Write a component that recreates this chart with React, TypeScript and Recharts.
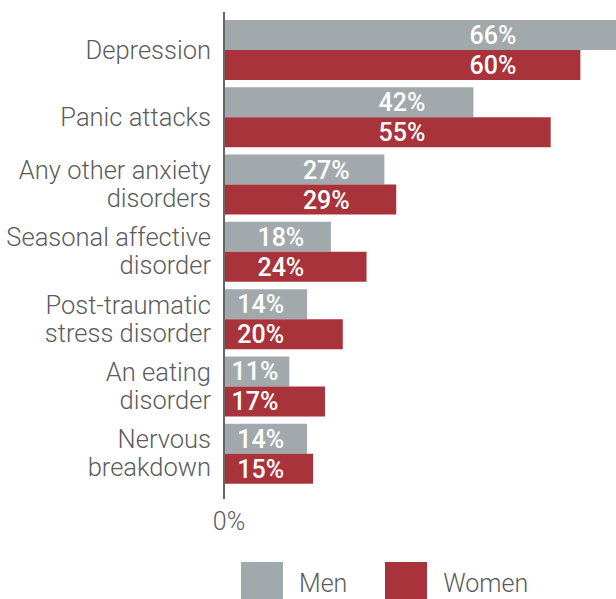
import React from 'react';
import { BarChart, Bar, XAxis, YAxis, Legend, LabelList } from 'recharts';

const categories = [
  ['Depression'],
  ['Panic attacks'],
  ['Any other anxiety', 'disorders'],
  ['Seasonal affective', 'disorder'],
  ['Post-traumatic', 'stress disorder'],
  ['An eating', 'disorder'],
  ['Nervous', 'breakdown'],
];
const men = [66, 42, 27, 18, 14, 11, 14];
const women = [60, 55, 29, 24, 20, 17, 15];
const xTicks = [0];

const GREY = '#a2a9ac';
const RED = '#a9333a';
const TEXT = '#5c5c5c';
const FONT = 'Roboto, "Open Sans", sans-serif';

const data = categories.map((lines, i) => ({
  name: lines.join(' '),
  lines,
  men: men[i],
  women: women[i],
}));

const CategoryTick = (props: any) => {
  const { x, y, payload } = props;
  const lines: string[] = data[payload.index]?.lines ?? [payload.value];
  const lh = 28;
  const tx = x + 6;
  const start = y - ((lines.length - 1) * lh) / 2;
  return (
    <text x={tx} y={start} textAnchor="end" fill={TEXT} fontFamily={FONT} fontWeight={300} fontSize={25.5}>
      {lines.map((l, k) => (
        <tspan key={k} x={tx} y={start + k * lh} dy="0.35em">
          {l}
        </tspan>
      ))}
    </text>
  );
};

// axis line drawn together with the single "0%" tick
const ZeroTick = (props: any) => {
  const { x, y, payload } = props;
  return (
    <g>
      <line x1={x} x2={x} y1={12} y2={499} stroke="#666" strokeWidth={2} />
      <text x={x + 5} y={y + 26} textAnchor="middle" fill={TEXT} fontFamily={FONT} fontWeight={300} fontSize={25} dy="0.35em">
        {payload.value}%
      </text>
    </g>
  );
};

const ValueLabel = (props: any) => {
  const { x, y, width, height, value, index } = props;
  const per = width / value;
  const minW = Math.min(men[index], women[index]) * per;
  const cx = x + Math.max(31, minW * 0.85 - 34);
  return (
    <text x={cx} y={y + height / 2} dy="0.36em" textAnchor="middle" fill="#fff" fontFamily={FONT} fontWeight={500} fontSize={25}>
      {value}%
    </text>
  );
};

const LegendContent = () => (
  <div style={{ display: 'flex', alignItems: 'center', fontFamily: FONT, fontWeight: 300, fontSize: 25, color: TEXT, height: 42, transform: 'translateY(5px)' }}>
    <span style={{ display: 'inline-block', width: 42, height: 42, background: GREY, marginLeft: 241 }} />
    <span style={{ marginLeft: 16 }}>Men</span>
    <span style={{ display: 'inline-block', width: 42, height: 42, background: RED, marginLeft: 38 }} />
    <span style={{ marginLeft: 16 }}>Women</span>
  </div>
);

export default function App() {
  return (
    <div style={{ position: 'absolute', left: 0, top: 0, width: 616, height: 599, background: '#fff', overflow: 'hidden' }}>
      <BarChart
        width={616}
        height={599}
        data={data}
        layout="vertical"
        margin={{ top: 16, right: 0, bottom: 0, left: 0 }}
        barGap={0}
        barSize={30}
      >
        <XAxis type="number" domain={[0, 66]} ticks={xTicks} axisLine={false} tickLine={false} height={70} tick={<ZeroTick />} />
        <YAxis type="category" dataKey="name" width={224} axisLine={false} tickLine={false} tickMargin={13} tick={<CategoryTick />} interval={0} />
        <Legend verticalAlign="bottom" content={<LegendContent />} wrapperStyle={{ left: 0, width: 616 }} />
        <Bar dataKey="men" name="Men" fill={GREY} isAnimationActive={false}>
          <LabelList dataKey="men" content={<ValueLabel />} />
        </Bar>
        <Bar dataKey="women" name="Women" fill={RED} isAnimationActive={false}>
          <LabelList dataKey="women" content={<ValueLabel />} />
        </Bar>
      </BarChart>
    </div>
  );
}
